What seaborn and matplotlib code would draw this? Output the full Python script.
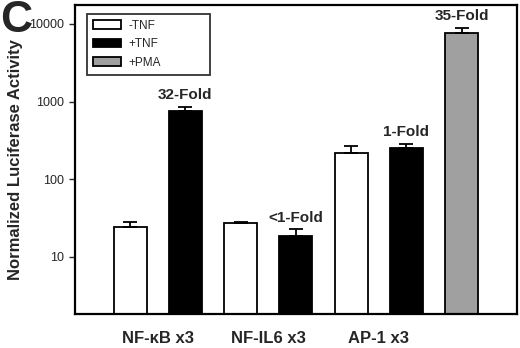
import numpy as np
import pandas as pd
import matplotlib
matplotlib.use("Agg")
import matplotlib.pyplot as plt
import seaborn as sns
from matplotlib.patches import Patch

# Luciferase reporter activity (log scale)
slots = ["kb_minus", "kb_plus", "il6_minus", "il6_plus", "ap1_minus", "ap1_plus", "ap1_pma"]
conditions = ["-TNF", "+TNF", "-TNF", "+TNF", "-TNF", "+TNF", "+PMA"]
values = [23.8, 760, 26.8, 18.2, 218, 252, 7640]
errors = [3.8, 100, 0.7, 4.2, 50, 33, 1230]
fold_labels = ["", "32-Fold", "", "<1-Fold", "", "1-Fold", "35-Fold"]
group_labels = ["NF-\u03baB x3", "NF-IL6 x3", "AP-1 x3"]
group_pos = [0.5, 2.5, 4.5]

df = pd.DataFrame({"slot": slots, "cond": conditions, "value": values, "err": errors})

sns.set_style("white")
plt.rcParams["font.family"] = ["Liberation Sans", "DejaVu Sans"]

fig = plt.figure(figsize=(5.2, 3.48), dpi=100)
ax = fig.add_axes([0.144, 0.098, 0.850, 0.888])

palette = {"-TNF": "white", "+TNF": "black", "+PMA": "#a0a0a0"}
sns.barplot(data=df, x="slot", y="value", hue="cond", palette=palette,
            dodge=False, width=0.6, edgecolor="black", linewidth=1.3,
            legend=False, ax=ax, errorbar=None)

x = np.arange(len(slots))
ax.errorbar(x, df["value"], yerr=[np.zeros(len(slots)), df["err"]],
            fmt="none", ecolor="black", elinewidth=1.3, capsize=5, capthick=1.3)

for xi, v, e, lab in zip(x, values, errors, fold_labels):
    if lab:
        ax.text(xi, (v + e) * 1.15, lab, ha="center", va="bottom",
                fontsize=11, fontweight="bold")

ax.set_yscale("log")
ax.set_ylim(1.82, 17650)
ax.set_xlim(-1.0, 7.0)
ax.set_yticks([10, 100, 1000, 10000])
ax.set_yticklabels(["10", "100", "1000", "10000"])
ax.yaxis.set_minor_locator(matplotlib.ticker.NullLocator())
ax.tick_params(axis="y", direction="out", length=4, width=1, labelsize=9, left=True)
ax.set_xticks(group_pos)
ax.set_xticklabels(group_labels, fontsize=12, fontweight="bold")
ax.tick_params(axis="x", length=0, pad=12)
ax.set_xlabel("")
ax.set_ylabel("Normalized Luciferase Activity", fontsize=12, fontweight="bold", labelpad=5)
for s in ax.spines.values():
    s.set_linewidth(1.6)
    s.set_color("black")

handles = [Patch(facecolor=palette[c], edgecolor="black", linewidth=1.3) for c in ["-TNF", "+TNF", "+PMA"]]
ax.legend(handles, ["-TNF", "+TNF", "+PMA"], loc="upper left",
          bbox_to_anchor=(0.014, 0.99, 0.305, 0.0), mode="expand",
          fontsize=8.5, frameon=True, fancybox=False, edgecolor="black", handlelength=2.4,
          handleheight=0.75, handletextpad=0.6, labelspacing=0.55, borderpad=0.5)
ax.get_legend().get_frame().set_linewidth(1.3)

fig.text(0.032, 1.0, "C", fontsize=32, fontweight="bold", ha="center", va="top")

fig.savefig("out.png", dpi=100)
